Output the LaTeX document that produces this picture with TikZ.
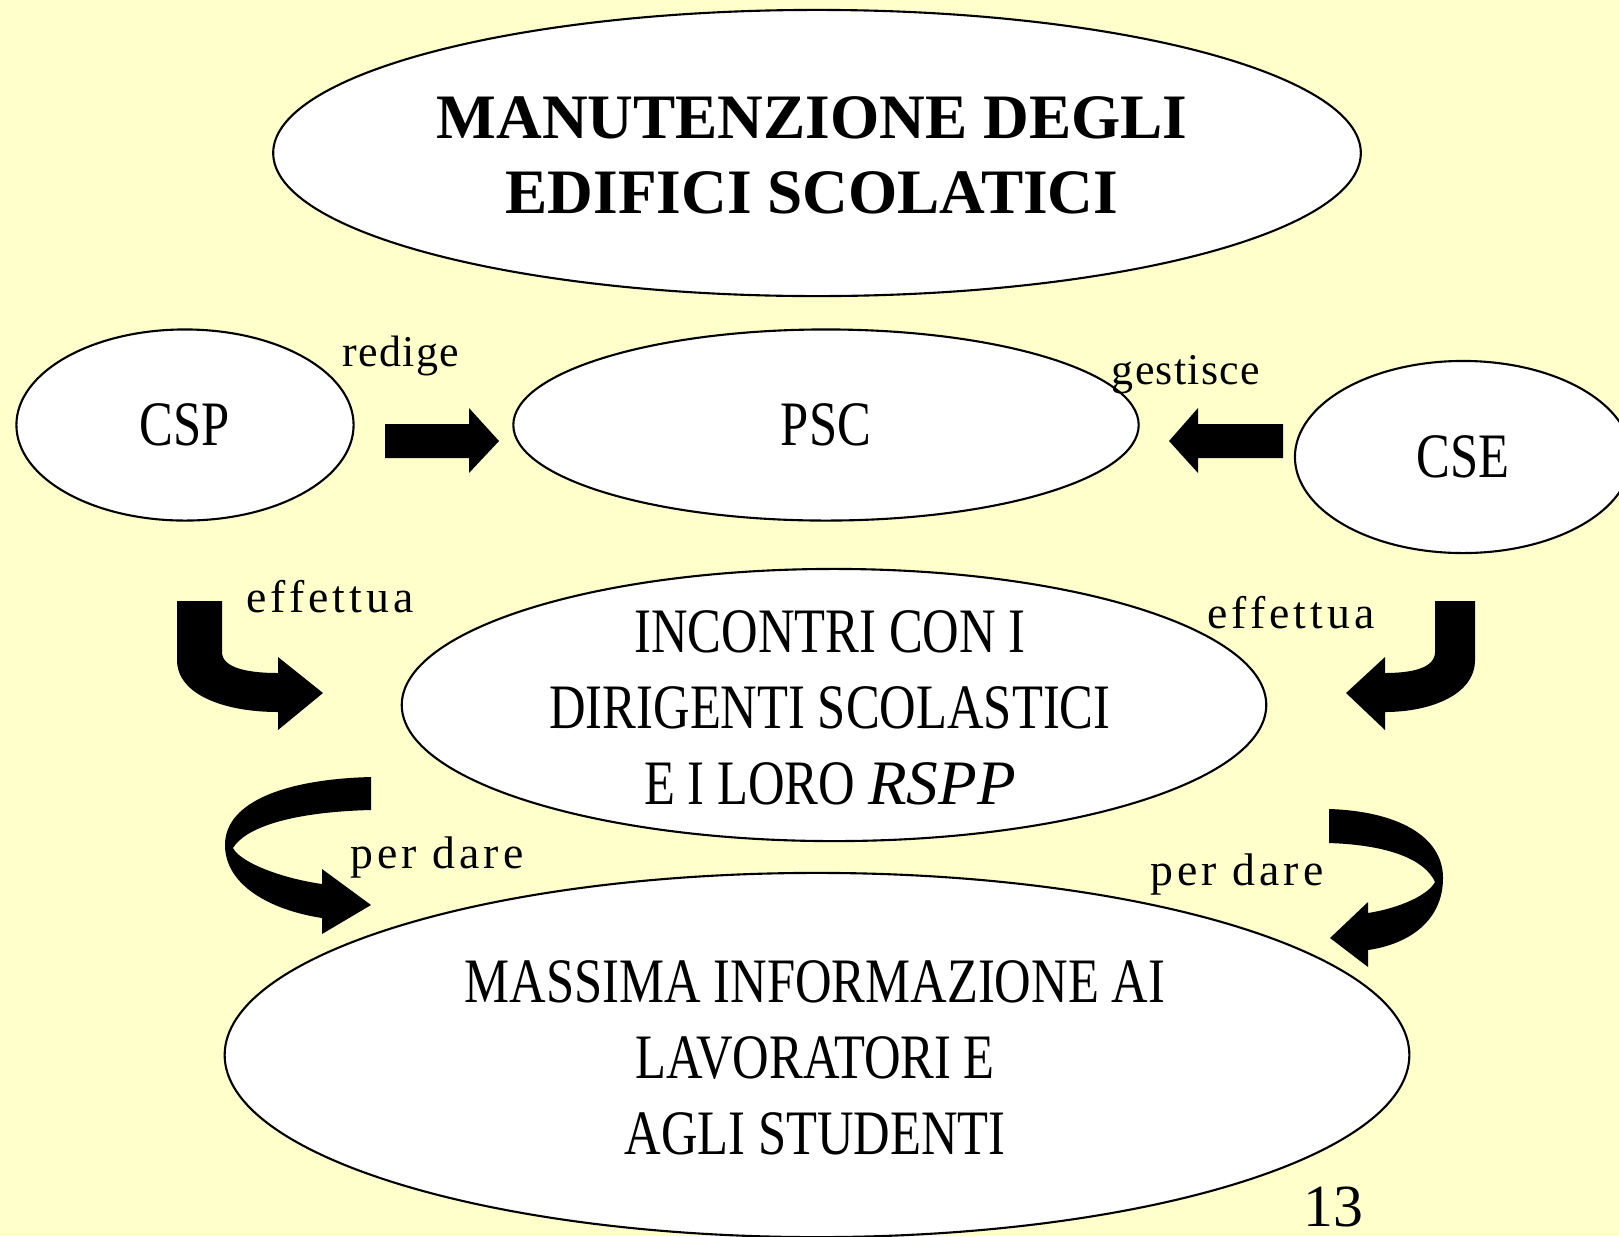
\documentclass[tikz,border=0pt]{standalone}
\usepackage{fontspec}
\setmainfont{Liberation Serif}
\newfontfamily\condfont[FakeStretch=0.8]{Liberation Serif}
\newfontfamily\verbfont[LetterSpace=3]{Liberation Serif}
\newfontfamily\spacedfont[LetterSpace=9]{Liberation Serif}
\usetikzlibrary{shapes.geometric}
\definecolor{slidebg}{HTML}{FFFFCC}

\begin{document}
\begin{tikzpicture}[x=0.01cm,y=-0.01cm,
		bubble/.style={draw,ellipse,fill=white,line width=0.6pt,inner sep=0pt},
		bigtext/.style={align=center,font=\condfont\fontsize{18}{21.6}\selectfont},
		verb/.style={anchor=base,font=\verbfont\fontsize{12.5}{15}\selectfont},
		spaced/.style={anchor=base,font=\spacedfont\fontsize{13}{15}\selectfont}]
	\path[use as bounding box,clip] (0,0) rectangle (1619,1236);
	\fill[slidebg] (0,0) rectangle (1619,1236);

	% ellissi
	\node[bubble,minimum width=10.87cm,minimum height=2.86cm] (title) at (817,153) {};
	\node[align=center,font=\bfseries\fontsize{18}{21.3}\selectfont] (titletxt) at (812,155) {MANUTENZIONE DEGLI\\EDIFICI SCOLATICI};
	\node[bubble,bigtext,minimum width=3.37cm,minimum height=1.91cm] (csp) at (185,425) {CSP};
	\node[bubble,bigtext,minimum width=6.25cm,minimum height=1.91cm] (psc) at (826,425) {PSC};
	\node[bubble,bigtext,minimum width=3.36cm,minimum height=1.92cm] (cse) at (1463,457) {CSE};
	\node[bubble,minimum width=8.64cm,minimum height=2.72cm] (incontri) at (834,705) {};
	\node[bigtext] (incontritxt) at (830,708) {INCONTRI CON I\\DIRIGENTI SCOLASTICI\\E I LORO {\rmfamily\itshape RSPP}};
	\node[bubble,minimum width=11.84cm,minimum height=3.64cm] (massima) at (817,1055) {};
	\node[bigtext] (massimatxt) at (815,1058) {MASSIMA INFORMAZIONE AI\\LAVORATORI E\\AGLI STUDENTI};

	% frecce dritte
	\fill (385,424) -- (469,424) -- (469,408) -- (499,441) -- (469,473) -- (469,458) -- (385,458) -- cycle;
	\fill (1283,424) -- (1198,424) -- (1198,408) -- (1169,441) -- (1198,473) -- (1198,458) -- (1283,458) -- cycle;
	% frecce piegate
	\fill (177,601) -- (177,660) .. controls (177,695) and (225,712) .. (278,712) -- (278,730) -- (323,693) -- (278,657) -- (278,673) .. controls (248,673) and (222,668) .. (222,652) -- (222,601) -- cycle;
	\fill (1475,601) -- (1475,660) .. controls (1475,695) and (1430,712) .. (1385,712) -- (1385,730) -- (1346,693) -- (1385,657) -- (1385,673) .. controls (1412,673) and (1435,668) .. (1435,652) -- (1435,601) -- cycle;
	% frecce curve
	\fill (371,777) .. controls (290,779) and (225,800) .. (225,845) .. controls (225,885) and (270,910) .. (322,918) -- (322,934) -- (371,905) -- (322,869) -- (322,884) .. controls (280,878) and (240,862) .. (233,848) .. controls (245,828) and (290,812) .. (371,810) -- cycle;
	\fill (1329,809) .. controls (1395,811) and (1443,835) .. (1443,878) .. controls (1443,920) and (1410,944) .. (1368,950) -- (1368,967) -- (1330,938) -- (1368,902) -- (1368,913) .. controls (1400,908) and (1428,895) .. (1435,882) .. controls (1425,860) and (1390,845) .. (1329,843) -- cycle;

	% etichette
	\node[verb] (redige) at (401,366) {redige};
	\node[verb] (gestisce) at (1186,384) {gestisce};
	\node[spaced] (effL) at (330,612) {effettua};
	\node[spaced] (effR) at (1291,628) {effettua};
	\node[spaced] (perL) at (437,868) {per dare};
	\node[spaced] (perR) at (1237,885) {per dare};
	\node[anchor=base,font=\fontsize{17}{20}\selectfont] (pagenum) at (1333,1226) {13};
\end{tikzpicture}
\end{document}
